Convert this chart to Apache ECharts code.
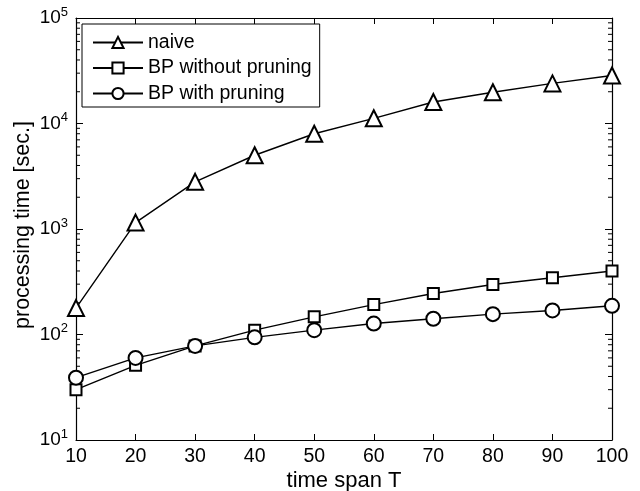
<!DOCTYPE html>
<html>
<head>
<meta charset="utf-8">
<script src="https://cdn.jsdelivr.net/npm/echarts@6/dist/echarts.min.js"></script>
<style>html,body{margin:0;padding:0;background:#fff;}#c{width:640px;height:491px;}</style>
</head>
<body>
<div id="c"></div>
<script>
const timeSpan = [10, 20, 30, 40, 50, 60, 70, 80, 90, 100];
const naive = [178, 1150, 2800, 5000, 8000, 11200, 16000, 19800, 24000, 28500];
const bpWithout = [30, 51, 78, 110, 147, 192, 245, 298, 345, 400];
const bpWith = [39, 60, 78, 94, 110, 127, 141, 156, 169, 187];
const seriesNames = ['naive', 'BP without pruning', 'BP with pruning'];
const xLabel = 'time span T';
const yLabel = 'processing time [sec.]';
const decades = [10, 100, 1000, 10000];
const minorMult = [2, 3, 4, 5, 6, 7, 8, 9];

const minorTicks = [];
decades.forEach(d => minorMult.forEach(m => minorTicks.push([d * m])));

const FONT = 'Liberation Sans';
const chart = echarts.init(document.getElementById('c'));

function pair(a) { return timeSpan.map((x, i) => [x, a[i]]); }

const lineCommon = {
  type: 'line',
  symbolSize: 13,
  lineStyle: { color: '#000', width: 1.4 },
  itemStyle: { color: '#000', borderColor: '#000', borderWidth: 1.4 },
  emphasis: { disabled: true },
  animation: false,
  z: 5
};

chart.setOption({
  animation: false,
  textStyle: { fontFamily: FONT },
  grid: { left: 76, right: 28, top: 18, bottom: 51, containLabel: false, outerBoundsMode: 'none' },
  legend: {
    data: seriesNames,
    orient: 'vertical',
    left: 82, top: 24,
    itemWidth: 50, itemHeight: 14,
    itemGap: 4.5,
    padding: [8, 8, 3, 10],
    borderColor: '#000', borderWidth: 1,
    backgroundColor: '#fff',
    textStyle: { fontFamily: FONT, fontSize: 19.5, color: '#000', lineHeight: 21 },
    selectedMode: false
  },
  xAxis: [{
    type: 'value', min: 10, max: 100, interval: 10,
    name: xLabel, nameLocation: 'middle', nameGap: 30, nameMoveOverlap: false,
    nameTextStyle: { fontFamily: FONT, fontSize: 22, color: '#000' },
    axisLine: { lineStyle: { color: '#000', width: 1.2 } },
    axisTick: { inside: true, length: 6, lineStyle: { color: '#000' } },
    axisLabel: { fontFamily: FONT, fontSize: 19.5, color: '#000', margin: 7 },
    splitLine: { show: false }
  }, {
    type: 'value', min: 10, max: 100, interval: 10, position: 'top',
    axisLine: { lineStyle: { color: '#000', width: 1.2 } },
    axisTick: { inside: true, length: 6, lineStyle: { color: '#000' } },
    axisLabel: { show: false },
    splitLine: { show: false }
  }],
  yAxis: [{
    type: 'log', logBase: 10, min: 10, max: 100000,
    name: yLabel, nameLocation: 'middle', nameGap: 42, nameMoveOverlap: false,
    nameTextStyle: { fontFamily: FONT, fontSize: 21.5, color: '#000', padding: [0, 0, 0, 8] },
    axisLine: { show: true, lineStyle: { color: '#000', width: 1.2 } },
    axisTick: { show: true, inside: true, length: 7, lineStyle: { color: '#000' } },
    axisLabel: {
      fontFamily: FONT, fontSize: 19, color: '#000', margin: 8,
      formatter: v => '10{sup|' + Math.round(Math.log10(v)) + '}',
      rich: { sup: { fontFamily: FONT, fontSize: 13, color: '#000', verticalAlign: 'top', padding: [0, 0, 12, 0] } }
    },
    splitLine: { show: false }
  }, {
    type: 'log', logBase: 10, min: 10, max: 100000, position: 'right',
    axisLine: { show: true, lineStyle: { color: '#000', width: 1.2 } },
    axisTick: { show: true, inside: true, length: 7, lineStyle: { color: '#000' } },
    axisLabel: { show: false },
    splitLine: { show: false }
  }],
  series: [
    Object.assign({}, lineCommon, { name: seriesNames[0], symbol: 'emptyTriangle', symbolSize: 16, data: pair(naive) }),
    Object.assign({}, lineCommon, { name: seriesNames[1], symbol: 'emptyRect', symbolSize: 11, data: pair(bpWithout) }),
    Object.assign({}, lineCommon, { name: seriesNames[2], symbol: 'emptyCircle', symbolSize: 14, data: pair(bpWith) }),
    {
      type: 'custom', silent: true, clip: false, z: 3,
      data: minorTicks,
      renderItem: (params, api) => {
        const v = api.value(0);
        const l = api.coord([10, v]);
        const r = api.coord([100, v]);
        return {
          type: 'group', children: [
            { type: 'line', shape: { x1: l[0], y1: l[1], x2: l[0] + 4, y2: l[1] }, style: { stroke: '#000', lineWidth: 1 } },
            { type: 'line', shape: { x1: r[0], y1: r[1], x2: r[0] - 4, y2: r[1] }, style: { stroke: '#000', lineWidth: 1 } }
          ]
        };
      },
      encode: { y: 0 }
    }
  ]
});
</script>
</body>
</html>
